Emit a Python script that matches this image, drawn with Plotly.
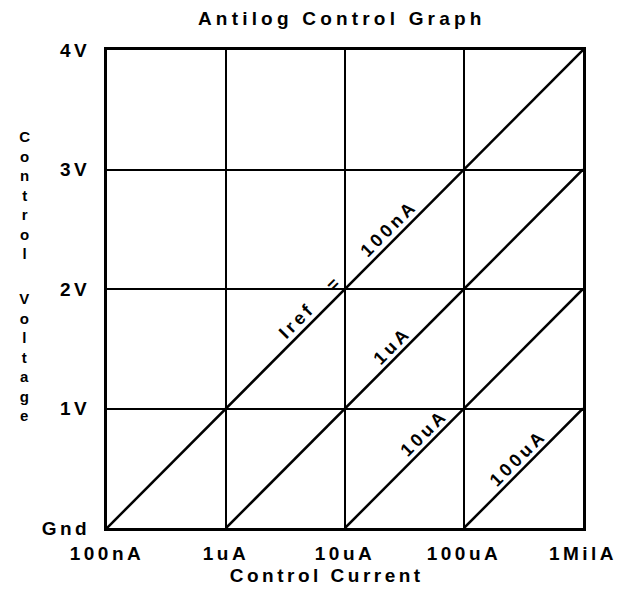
import numpy as np
import plotly.graph_objects as go

# ---- data ----
current_ticks = [1e-7, 1e-6, 1e-5, 1e-4, 1e-3]
current_labels = ["100nA", "1uA", "10uA", "100uA", "1MilA"]
voltage_ticks = [0, 1, 2, 3, 4]
voltage_labels = ["Gnd", "1V", "2V", "3V", "4V"]

iref_names = ["100nA", "1uA", "10uA", "100uA"]
iref_start_current = [1e-7, 1e-6, 1e-5, 1e-4]
iref_end_current = [1e-3, 1e-3, 1e-3, 1e-3]
iref_start_voltage = [0, 0, 0, 0]
iref_end_voltage = [4, 3, 2, 1]

# text placed along the lines: (text, line index, log10 current where it sits)
label_texts = ["Iref", "=", "100nA", "1uA", "10uA", "100uA"]
label_line = [0, 0, 0, 1, 2, 3]
label_log_current = [-5.33, -5.02, -4.56, -4.54, -4.27, -3.48]

title_text = "Antilog Control Graph"
x_title = "Control Current"
y_title_words = ["Control", "Voltage"]

FONT = "Liberation Sans, Arial, sans-serif"
FS = 19
fig = go.Figure()

for i in range(len(iref_names)):
    fig.add_trace(go.Scatter(
        x=[iref_start_current[i], iref_end_current[i]],
        y=[iref_start_voltage[i], iref_end_voltage[i]],
        mode="lines", line=dict(color="black", width=2.5),
        name="Iref = " + iref_names[i], showlegend=False, hoverinfo="skip"))

annotations = []
for txt, li, lc in zip(label_texts, label_line, label_log_current):
    xs = np.log10([iref_start_current[li], iref_end_current[li]])
    ys = [iref_start_voltage[li], iref_end_voltage[li]]
    yv = float(np.interp(lc, xs, ys))
    annotations.append(dict(
        x=lc, y=yv, xref="x", yref="y", text=txt, showarrow=False,
        textangle=-45, xanchor="center", yanchor="middle",
        xshift=-8, yshift=8,
        font=dict(family=FONT, size=FS - 1, color="black", weight="bold")))

# stacked vertical y title, one block per word
for word, pc in zip(y_title_words, [195, 357]):
    annotations.append(dict(
        x=-0.170, y=(528 - pc) / 478, xref="paper", yref="paper",
        text="<br>".join(list(word)), showarrow=False,
        xanchor="center", yanchor="middle", align="center",
        font=dict(family=FONT, size=15, color="black", weight="bold")))

annotations.append(dict(
    x=0.462, y=-0.100, xref="paper", yref="paper", text=x_title,
    showarrow=False, xanchor="center", yanchor="middle",
    font=dict(family=FONT, size=FS, color="black", weight="bold")))

annotations.append(dict(
    x=0.492, y=1.065, xref="paper", yref="paper", text=title_text,
    showarrow=False, xanchor="center", yanchor="middle",
    font=dict(family=FONT, size=FS, color="black", weight="bold")))

fig.update_layout(
    width=628, height=590,
    margin=dict(l=107, r=45, t=50, b=62),
    paper_bgcolor="white", plot_bgcolor="white",
    annotations=annotations,
    xaxis=dict(type="log", range=[-7, -3], tickvals=current_ticks,
               ticktext=current_labels, ticks="", showgrid=True,
               gridcolor="black", gridwidth=2, zeroline=False,
               showline=True, linecolor="black", linewidth=3, mirror=True,
               ticklabelstandoff=6,
               tickfont=dict(family=FONT, size=FS, color="black", weight="bold")),
    yaxis=dict(range=[0, 4], tickvals=voltage_ticks, ticktext=voltage_labels,
               ticks="", showgrid=True, gridcolor="black", gridwidth=2,
               zeroline=False, showline=True, linecolor="black", linewidth=3,
               mirror=True, ticklabelstandoff=10,
               tickfont=dict(family=FONT, size=FS, color="black", weight="bold")),
)

post = """
document.body.style.margin = '0';
var gd = document.getElementById('{plot_id}');
gd.querySelectorAll('.annotation-text, .xtick text, .ytick text').forEach(function(t){
  var s = t.textContent === 'Antilog Control Graph' ? '4.2px' : '3.5px';
  t.style.letterSpacing = s;
});
"""
fig.write_html("out.html", post_script=post, config={"displayModeBar": False})
